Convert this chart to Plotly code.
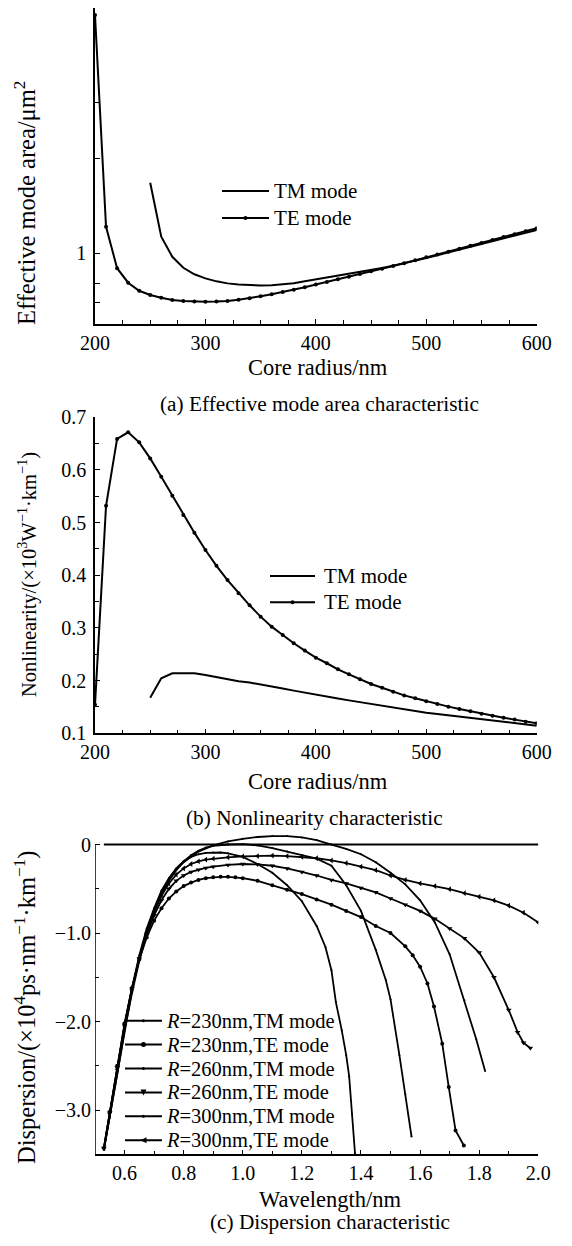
import plotly.graph_objects as go

# page body has an 8 px default margin: lay the figure out in reference pixels shifted by it
OFF = 8
W, H = 572 - OFF, 1246 - OFF
FONT = "Liberation Serif"

# ---------------- Panel (a): effective mode area ----------------
a_te_r = list(range(200, 601, 10))
a_te_area = [5.69, 1.214, 0.897, 0.807, 0.761, 0.738, 0.723, 0.711, 0.706, 0.703,
             0.702, 0.703, 0.706, 0.713, 0.721, 0.731, 0.742, 0.754, 0.767, 0.781,
             0.796, 0.811, 0.827, 0.843, 0.860, 0.877, 0.894, 0.912, 0.930, 0.950,
             0.972, 0.992, 1.012, 1.034, 1.056, 1.078, 1.102, 1.126, 1.150, 1.175, 1.200]
a_tm_r = list(range(250, 601, 10))
a_tm_area = [1.674, 1.129, 0.975, 0.900, 0.858, 0.833, 0.815, 0.803, 0.796, 0.792,
             0.791, 0.792, 0.796, 0.804, 0.815, 0.826, 0.837, 0.849, 0.861, 0.873,
             0.886, 0.899, 0.914, 0.930, 0.948, 0.967, 0.986, 1.006, 1.027, 1.048,
             1.070, 1.093, 1.116, 1.140, 1.163, 1.186]

# ---------------- Panel (b): nonlinearity ----------------
b_te_r = list(range(200, 601, 10))
b_te_gamma = [0.154, 0.532, 0.659, 0.6715, 0.6525, 0.622, 0.587, 0.551, 0.5145, 0.481,
              0.448, 0.418, 0.391, 0.366, 0.343, 0.3215, 0.3025, 0.2867, 0.2709, 0.257,
              0.2436, 0.233, 0.2215, 0.212, 0.2026, 0.1936, 0.1866, 0.179, 0.172, 0.1665,
              0.161, 0.1557, 0.1506, 0.1462, 0.1418, 0.1373, 0.1335, 0.1297, 0.126, 0.122, 0.119]
b_tm_r = list(range(250, 601, 10))
b_tm_gamma = [0.1676, 0.2045, 0.214, 0.2145, 0.214, 0.2107, 0.2065, 0.2025, 0.199, 0.1965,
              0.193, 0.189, 0.185, 0.181, 0.177, 0.173, 0.1695, 0.166, 0.1625, 0.159,
              0.1557, 0.152, 0.149, 0.1455, 0.1425, 0.1392, 0.1365, 0.134, 0.1315, 0.129,
              0.1266, 0.1242, 0.122, 0.1195, 0.117, 0.1145]

# ---------------- Panel (c): dispersion ----------------
c230tm_wl = [0.53, 0.55, 0.575, 0.60, 0.625, 0.65, 0.675, 0.70, 0.725, 0.75, 0.775, 0.80,
             0.825, 0.85, 0.875, 0.90, 0.925, 0.95, 1.00, 1.05, 1.10, 1.15, 1.20, 1.25,
             1.28, 1.30, 1.315, 1.335, 1.35, 1.36, 1.37, 1.38]
c230tm_d = [-3.45, -3.05, -2.55, -2.05, -1.62, -1.25, -0.95, -0.72, -0.52, -0.38, -0.27, -0.19,
            -0.14, -0.11, -0.095, -0.09, -0.09, -0.10, -0.14, -0.22, -0.32, -0.46, -0.64, -0.92,
            -1.16, -1.42, -1.78, -2.10, -2.38, -2.62, -3.05, -3.50]

c230te_wl = [0.53, 0.55, 0.575, 0.60, 0.625, 0.65, 0.675, 0.70, 0.725, 0.75, 0.775, 0.80,
             0.825, 0.85, 0.875, 0.90, 0.925, 0.95, 0.975, 1.00, 1.05, 1.10, 1.15, 1.20,
             1.25, 1.30, 1.35, 1.40, 1.45, 1.50, 1.55, 1.575, 1.60, 1.625, 1.647, 1.675,
             1.697, 1.72, 1.748]
c230te_d = [-3.43, -3.02, -2.50, -2.02, -1.62, -1.30, -1.05, -0.86, -0.72, -0.61, -0.53, -0.47,
            -0.43, -0.40, -0.38, -0.37, -0.365, -0.365, -0.37, -0.38, -0.41, -0.46, -0.51, -0.56,
            -0.62, -0.68, -0.75, -0.82, -0.92, -1.00, -1.15, -1.25, -1.38, -1.57, -1.83, -2.25,
            -2.74, -3.23, -3.40]

c260tm_wl = [0.53, 0.55, 0.575, 0.60, 0.625, 0.65, 0.675, 0.70, 0.725, 0.75, 0.775, 0.80,
             0.825, 0.85, 0.875, 0.90, 0.95, 1.00, 1.05, 1.10, 1.15, 1.20, 1.25, 1.30,
             1.35, 1.40, 1.45, 1.484, 1.50, 1.53, 1.55, 1.571]
c260tm_d = [-3.45, -3.07, -2.58, -2.08, -1.65, -1.28, -0.98, -0.74, -0.54, -0.39, -0.28, -0.19,
            -0.12, -0.07, -0.035, -0.015, 0.0, 0.005, -0.01, -0.04, -0.08, -0.12, -0.16, -0.24,
            -0.46, -0.75, -1.19, -1.53, -1.75, -2.38, -2.82, -3.30]

c260te_wl = [0.53, 0.55, 0.575, 0.60, 0.625, 0.65, 0.675, 0.70, 0.725, 0.75, 0.775, 0.80,
             0.825, 0.85, 0.875, 0.90, 0.95, 1.00, 1.05, 1.10, 1.15, 1.20, 1.25, 1.30,
             1.35, 1.40, 1.45, 1.50, 1.55, 1.60, 1.65, 1.70, 1.75, 1.80, 1.85, 1.90,
             1.93, 1.95, 1.973]
c260te_d = [-3.43, -3.03, -2.52, -2.04, -1.63, -1.29, -1.02, -0.80, -0.63, -0.50, -0.41, -0.35,
            -0.31, -0.285, -0.265, -0.25, -0.23, -0.22, -0.225, -0.24, -0.27, -0.31, -0.35, -0.40,
            -0.44, -0.49, -0.54, -0.61, -0.68, -0.75, -0.84, -0.95, -1.06, -1.22, -1.50, -1.87,
            -2.12, -2.24, -2.30]

c300tm_wl = [0.53, 0.55, 0.575, 0.60, 0.625, 0.65, 0.675, 0.70, 0.725, 0.75, 0.775, 0.80,
             0.85, 0.90, 0.95, 1.00, 1.05, 1.10, 1.15, 1.20, 1.25, 1.30, 1.35, 1.40,
             1.45, 1.50, 1.55, 1.60, 1.65, 1.70, 1.75, 1.79, 1.82]
c300tm_d = [-3.45, -3.09, -2.60, -2.10, -1.68, -1.31, -1.00, -0.76, -0.56, -0.41, -0.29, -0.20,
            -0.08, -0.01, 0.035, 0.065, 0.085, 0.095, 0.095, 0.08, 0.05, 0.0, -0.05, -0.11,
            -0.20, -0.32, -0.45, -0.63, -0.88, -1.24, -1.76, -2.20, -2.56]

c300te_wl = [0.53, 0.55, 0.575, 0.60, 0.625, 0.65, 0.675, 0.70, 0.725, 0.75, 0.775, 0.80,
             0.825, 0.85, 0.875, 0.90, 0.95, 1.00, 1.05, 1.10, 1.15, 1.20, 1.25, 1.30,
             1.35, 1.40, 1.45, 1.50, 1.55, 1.60, 1.65, 1.70, 1.75, 1.80, 1.85, 1.90,
             1.95, 2.00]
c300te_d = [-3.43, -3.04, -2.54, -2.05, -1.64, -1.28, -0.99, -0.76, -0.58, -0.44, -0.34, -0.27,
            -0.22, -0.19, -0.17, -0.16, -0.145, -0.135, -0.13, -0.125, -0.13, -0.14, -0.155, -0.18,
            -0.21, -0.25, -0.29, -0.35, -0.40, -0.44, -0.47, -0.505, -0.55, -0.59, -0.63, -0.69,
            -0.77, -0.88]

zero_wl = [0.53, 2.0]
zero_d = [0.0, 0.0]

a_xticks = [200, 300, 400, 500, 600]
a_yticks = [0.7, 0.8, 1, 2, 3]
a_ytext = ["", "", "1", "", ""]
b_yticks = [0.1, 0.2, 0.3, 0.4, 0.5, 0.6, 0.7]
c_xticks = [0.6, 0.8, 1.0, 1.2, 1.4, 1.6, 1.8, 2.0]
c_yticks = [0, -1, -2, -3]
c_ytext = ["0", "\u22121.0", "\u22122.0", "\u22123.0"]

ab_names = ["TM mode", "TE mode"]
c_names = ["<i>R</i>=230nm,TM mode", "<i>R</i>=230nm,TE mode", "<i>R</i>=260nm,TM mode",
           "<i>R</i>=260nm,TE mode", "<i>R</i>=300nm,TM mode", "<i>R</i>=300nm,TE mode"]
c_symbols = ["circle", "circle", "circle", "triangle-down", "circle", "triangle-left"]
c_sizes = [2, 4, 2, 5, 2, 5]

# ------------------------------------------------------------
def px_x(p):
    return min(1.0, max(0.0, (p - OFF) / W))

def px_y(p):
    return min(1.0, max(0.0, 1 - (p - OFF) / H))

fig = go.Figure()
BL = dict(color="black", width=2)

fig.add_trace(go.Scatter(x=a_tm_r, y=a_tm_area, mode="lines", line=BL, name=ab_names[0],
                         xaxis="x", yaxis="y", showlegend=False))
fig.add_trace(go.Scatter(x=a_te_r, y=a_te_area, mode="lines+markers", line=BL,
                         marker=dict(symbol="circle", size=4, color="black"),
                         name=ab_names[1], xaxis="x", yaxis="y", showlegend=False))

fig.add_trace(go.Scatter(x=b_tm_r, y=b_tm_gamma, mode="lines", line=BL, name=ab_names[0],
                         xaxis="x2", yaxis="y2", showlegend=False))
fig.add_trace(go.Scatter(x=b_te_r, y=b_te_gamma, mode="lines+markers", line=BL,
                         marker=dict(symbol="circle", size=4, color="black"),
                         name=ab_names[1], xaxis="x2", yaxis="y2", showlegend=False))

fig.add_trace(go.Scatter(x=zero_wl, y=zero_d, mode="lines", line=BL, showlegend=False,
                         xaxis="x3", yaxis="y3", hoverinfo="skip"))
c_data = [(c230tm_wl, c230tm_d), (c230te_wl, c230te_d), (c260tm_wl, c260tm_d),
          (c260te_wl, c260te_d), (c300tm_wl, c300tm_d), (c300te_wl, c300te_d)]
for (xs, ys), name, sym, sz in zip(c_data, c_names, c_symbols, c_sizes):
    fig.add_trace(go.Scatter(x=xs, y=ys, mode="lines+markers",
                             line=dict(color="black", width=1.8),
                             marker=dict(symbol=sym, size=sz, color="black"),
                             name=name, xaxis="x3", yaxis="y3", showlegend=False))

tickfont = dict(family=FONT, size=20, color="black")
common = dict(showline=True, linecolor="black", linewidth=1.5, ticks="inside", ticklen=5,
              tickwidth=1.2, tickcolor="black", showgrid=False, zeroline=False,
              tickfont=tickfont, automargin=False)
minor_common = dict(ticks="inside", ticklen=4, tickcolor="black", tickwidth=1.2, showgrid=False)
XSO, YSO = 0, 3

xa_dom = [px_x(95), px_x(536.7)]
fig.update_layout(
    template="none",
    width=W, height=H, margin=dict(l=0, r=0, t=0, b=0, pad=0, autoexpand=False),
    paper_bgcolor="white", plot_bgcolor="white",
    font=dict(family=FONT, color="black"),
    showlegend=False,
    xaxis=dict(domain=xa_dom, range=[200, 600], tickvals=a_xticks, anchor="y",
               ticklabelstandoff=XSO, minor=dict(dtick=25, **minor_common), **common),
    yaxis=dict(domain=[px_y(324), px_y(8)], type="log", range=[-0.2240, 0.7773],
               tickvals=a_yticks, ticktext=a_ytext, anchor="x", ticklabelstandoff=YSO, **common),
    xaxis2=dict(domain=xa_dom, range=[200, 600], tickvals=a_xticks, anchor="y2",
                ticklabelstandoff=XSO, minor=dict(dtick=25, **minor_common), **common),
    yaxis2=dict(domain=[px_y(733.3), px_y(417.3)], range=[0.1, 0.7], tickvals=b_yticks,
                tickformat=".1f", anchor="x2", ticklabelstandoff=YSO,
                minor=dict(dtick=0.05, **minor_common), **common),
    xaxis3=dict(domain=[px_x(95), px_x(538.3)], range=[0.5, 2.0], tickvals=c_xticks,
                tickformat=".1f", anchor="y3", ticklabelstandoff=XSO,
                minor=dict(dtick=0.1, **minor_common), **common),
    yaxis3=dict(domain=[px_y(1154.3), px_y(833.9)], range=[-3.5, 0.12], tickvals=c_yticks,
                ticktext=c_ytext, anchor="x3", ticklabelstandoff=YSO,
                minor=dict(dtick=0.5, **minor_common),
                **{k: v for k, v in common.items() if k != "showline"}, showline=False),
)

# panel (c) y-axis spine ending at 0
fig.add_shape(type="line", xref="x3", yref="y3", x0=0.5, x1=0.5, y0=-3.5, y1=0,
              line=dict(color="black", width=1.5))

def ann(text, x, y, size=21, angle=0, xanchor="center"):
    fig.add_annotation(text=text, x=px_x(x), y=px_y(y), xref="paper", yref="paper",
                       showarrow=False, textangle=angle, xanchor=xanchor, yanchor="middle",
                       font=dict(family=FONT, size=size, color="black"))

def legend_sample(x0, x1, y, symbol, size, lw=2):
    fig.add_shape(type="line", xref="paper", yref="paper",
                  x0=px_x(x0), x1=px_x(x1), y0=px_y(y), y1=px_y(y),
                  line=dict(color="black", width=lw))
    cx = (x0 + x1) / 2
    r = size / 2
    if symbol == "circle" and size > 0:
        fig.add_shape(type="circle", xref="paper", yref="paper",
                      x0=px_x(cx - r), x1=px_x(cx + r), y0=px_y(y + r), y1=px_y(y - r),
                      line=dict(color="black", width=0), fillcolor="black")
    elif symbol == "triangle-down":
        pts = [(cx - r, y - r), (cx + r, y - r), (cx, y + r)]
        path = "M " + " L ".join(f"{px_x(a)},{px_y(b)}" for a, b in pts) + " Z"
        fig.add_shape(type="path", xref="paper", yref="paper", path=path,
                      line=dict(color="black", width=0), fillcolor="black")
    elif symbol == "triangle-left":
        pts = [(cx + r, y - r), (cx + r, y + r), (cx - r, y)]
        path = "M " + " L ".join(f"{px_x(a)},{px_y(b)}" for a, b in pts) + " Z"
        fig.add_shape(type="path", xref="paper", yref="paper", path=path,
                      line=dict(color="black", width=0), fillcolor="black")

# legends (a) and (b)
for rows, (lx0, lx1, tx) in [((191, 218), (222, 269, 272)), ((576, 602.3), (270, 315, 322))]:
    legend_sample(lx0, lx1, rows[0], "none", 0)
    legend_sample(lx0, lx1, rows[1], "circle", 4)
    ann(ab_names[0], tx, rows[0], 21, xanchor="left")
    ann(ab_names[1], tx, rows[1], 21, xanchor="left")

# legend (c)
for i, (name, sym, sz) in enumerate(zip(c_names, c_symbols, c_sizes)):
    y = 1020.7 + i * 23.9
    legend_sample(125, 162, y, sym, sz + 1, lw=2)
    ann(name, 164, y, 20.5, xanchor="left")

ann("Effective mode area/\u03bcm<sup>2</sup>", 25, 203, 24.5, -90)
ann("Core radius/nm", 318, 367, 22.5)
ann("(a) Effective mode area characteristic", 319, 404, 21.3)
ann("Nonlinearity/(\u00d710<sup>3</sup>W<sup>\u22121</sup>\u00b7km<sup>\u22121</sup>)", 27, 575, 20.5, -90)
ann("Core radius/nm", 318, 781, 22.5)
ann("(b) Nonlinearity characteristic", 314, 818, 21.3)
ann("Dispersion/(\u00d710<sup>4</sup>ps\u00b7nm<sup>\u22121</sup>\u00b7km<sup>\u22121</sup>)", 26, 1008, 24.5, -90)
ann("Wavelength/nm", 330, 1199, 22.5)
ann("(c) Dispersion characteristic", 330, 1222, 21.3)

fig.write_html("out.html")
